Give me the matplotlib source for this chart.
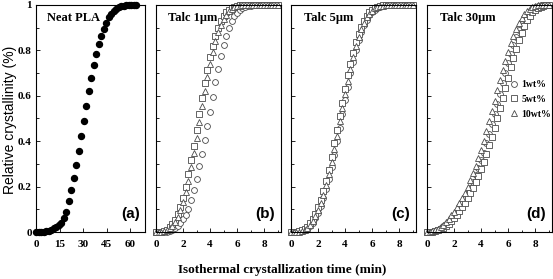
import matplotlib
matplotlib.use('Agg')
import matplotlib.pyplot as plt
from matplotlib.ticker import MultipleLocator

# ---------------- data ----------------
pla_time = [0, 1.6, 3.2, 4.8, 6.4, 8.0, 9.6, 11.2, 12.8, 14.4, 16.0, 17.6, 19.2, 20.8,
            22.4, 24.0, 25.6, 27.2, 28.8, 30.4, 32.0, 33.6, 35.2, 36.8, 38.4, 40.0,
            41.6, 43.2, 44.8, 46.4, 48.0, 49.6, 51.2, 52.8, 54.4, 56.0, 57.6, 59.2,
            60.8, 62.4, 64.0]
pla_xc = [0, 0, 0, 0.001, 0.003, 0.006, 0.011, 0.017, 0.024, 0.031, 0.04, 0.063, 0.09,
          0.135, 0.184, 0.24, 0.296, 0.359, 0.422, 0.49, 0.554, 0.622, 0.68, 0.734,
          0.785, 0.826, 0.865, 0.894, 0.922, 0.946, 0.96, 0.972, 0.982, 0.989, 0.994,
          0.997, 0.999, 1, 1, 1, 1]

talc_time = [0.0, 0.2, 0.4, 0.6, 0.8, 1.0, 1.2, 1.4, 1.6, 1.8, 2.0, 2.2, 2.4, 2.6, 2.8,
             3.0, 3.2, 3.4, 3.6, 3.8, 4.0, 4.2, 4.4, 4.6, 4.8, 5.0, 5.2, 5.4, 5.6, 5.8,
             6.0, 6.2, 6.4, 6.6, 6.8, 7.0, 7.2, 7.4, 7.6, 7.8, 8.0, 8.2, 8.4, 8.6, 8.8, 9.0]

# Talc 1um
b_1wt = [0, 0, 0, 0, 0.002, 0.005, 0.01, 0.017, 0.027, 0.04, 0.056, 0.076, 0.10, 0.14,
         0.185, 0.235, 0.29, 0.345, 0.405, 0.465, 0.53, 0.595, 0.66, 0.72, 0.775, 0.825,
         0.865, 0.90, 0.928, 0.95, 0.966, 0.978, 0.987, 0.992, 0.995, 0.997, 0.998, 0.999,
         1, 1, 1, 1, 1, 1, 1, 1]
b_5wt = [0, 0, 0.001, 0.004, 0.01, 0.02, 0.035, 0.055, 0.08, 0.11, 0.15, 0.20, 0.255,
         0.315, 0.38, 0.45, 0.52, 0.59, 0.655, 0.715, 0.77, 0.82, 0.865, 0.90, 0.93, 0.952,
         0.968, 0.98, 0.988, 0.993, 0.996, 0.998, 0.999, 1, 1, 1, 1, 1, 1, 1, 1, 1, 1, 1, 1, 1]
b_10wt = [0, 0, 0, 0.003, 0.008, 0.016, 0.028, 0.045, 0.068, 0.095, 0.13, 0.175, 0.225,
          0.285, 0.35, 0.415, 0.485, 0.555, 0.62, 0.685, 0.74, 0.795, 0.84, 0.88, 0.912,
          0.938, 0.958, 0.972, 0.982, 0.989, 0.994, 0.997, 0.998, 0.999, 1, 1, 1, 1, 1, 1,
          1, 1, 1, 1, 1, 1]
# Talc 5um
c_1wt = [0, 0, 0, 0.001, 0.003, 0.008, 0.015, 0.025, 0.04, 0.06, 0.085, 0.115, 0.15, 0.19,
         0.235, 0.285, 0.34, 0.40, 0.46, 0.52, 0.58, 0.64, 0.70, 0.75, 0.80, 0.845, 0.88,
         0.91, 0.935, 0.955, 0.97, 0.98, 0.988, 0.993, 0.996, 0.998, 0.999, 1, 1, 1, 1, 1,
         1, 1, 1, 1]
c_5wt = [0, 0, 0.001, 0.003, 0.007, 0.014, 0.024, 0.038, 0.056, 0.08, 0.108, 0.142, 0.18,
         0.225, 0.275, 0.33, 0.39, 0.45, 0.51, 0.57, 0.63, 0.69, 0.74, 0.79, 0.835, 0.873,
         0.905, 0.93, 0.952, 0.968, 0.98, 0.988, 0.993, 0.996, 0.998, 0.999, 1, 1, 1, 1, 1,
         1, 1, 1, 1, 1]
c_10wt = [0, 0, 0, 0.002, 0.005, 0.011, 0.019, 0.031, 0.047, 0.069, 0.096, 0.128, 0.165,
          0.207, 0.255, 0.308, 0.365, 0.425, 0.487, 0.547, 0.607, 0.667, 0.72, 0.772, 0.82,
          0.86, 0.894, 0.922, 0.945, 0.962, 0.975, 0.985, 0.991, 0.995, 0.997, 0.999, 1, 1,
          1, 1, 1, 1, 1, 1, 1, 1]
# Talc 30um
d_1wt = [0, 0, 0.002, 0.005, 0.01, 0.017, 0.025, 0.035, 0.047, 0.06, 0.075, 0.09, 0.108,
         0.127, 0.147, 0.17, 0.195, 0.222, 0.25, 0.28, 0.315, 0.35, 0.39, 0.43, 0.475, 0.52,
         0.565, 0.61, 0.655, 0.70, 0.745, 0.785, 0.825, 0.86, 0.89, 0.915, 0.94, 0.957,
         0.972, 0.982, 0.99, 0.995, 0.998, 1, 1, 1]
d_5wt = [0, 0, 0.001, 0.003, 0.007, 0.012, 0.019, 0.027, 0.037, 0.049, 0.062, 0.077, 0.093,
         0.11, 0.128, 0.148, 0.17, 0.194, 0.22, 0.248, 0.278, 0.31, 0.345, 0.382, 0.42,
         0.46, 0.502, 0.545, 0.59, 0.635, 0.68, 0.725, 0.768, 0.808, 0.845, 0.878, 0.907,
         0.932, 0.952, 0.968, 0.98, 0.988, 0.993, 0.997, 0.999, 1]
d_10wt = [0, 0, 0.003, 0.007, 0.013, 0.021, 0.031, 0.043, 0.057, 0.073, 0.09, 0.108, 0.128,
          0.15, 0.174, 0.2, 0.228, 0.258, 0.29, 0.325, 0.362, 0.402, 0.443, 0.487, 0.532,
          0.578, 0.624, 0.669, 0.712, 0.755, 0.795, 0.832, 0.865, 0.895, 0.92, 0.942, 0.96,
          0.974, 0.984, 0.991, 0.995, 0.998, 0.999, 1, 1, 1]

panel_titles = ['Neat PLA', 'Talc 1μm', 'Talc 5μm', 'Talc 30μm']
panel_tags = ['(a)', '(b)', '(c)', '(d)']
series_labels = ['1wt%', '5wt%', '10wt%']
pla_xticks = [0, 15, 30, 45, 60]
talc_xticks = [0, 2, 4, 6, 8]
yticks = [0, 0.2, 0.4, 0.6, 0.8, 1]
ytick_labels = ['0', '0.2', '0.4', '0.6', '0.8', '1']

# ---------------- figure ----------------
W, H = 553, 279
fig = plt.figure(figsize=(W / 100, H / 100), dpi=100)

def px_axes(x0, x1, y0, y1):
    return fig.add_axes([x0 / W, 1 - y1 / H, (x1 - x0) / W, (y1 - y0) / H])

axes = [px_axes(36, 145, 5, 232), px_axes(156, 281, 5, 232),
        px_axes(291, 416, 5, 232), px_axes(427, 552, 5, 232)]

tick_font = dict(family='Liberation Serif', weight='bold', size=8)
title_font = dict(family='Liberation Serif', weight='bold', size=9)

for i, ax in enumerate(axes):
    for s in ax.spines.values():
        s.set_linewidth(0.8)
    ax.set_ylim(0, 1)
    ax.set_yticks(yticks)
    ax.yaxis.set_minor_locator(MultipleLocator(0.1))
    ax.tick_params(which='both', direction='in', width=0.6, colors='black')
    ax.tick_params(which='major', length=3)
    ax.tick_params(which='minor', length=1.8)
    ax.tick_params(axis='x', which='major', pad=6)
    ax.tick_params(axis='y', which='major', pad=3)
    if i == 0:
        ax.set_yticklabels(ytick_labels, fontdict=tick_font)
    else:
        ax.set_yticklabels([])
    ax.text(0.1, 0.97, panel_titles[i], transform=ax.transAxes, ha='left', va='top',
            fontdict=title_font)
    ax.text(0.95, 0.05, panel_tags[i], transform=ax.transAxes, ha='right', va='bottom',
            family='Liberation Sans', weight='bold', size=11)

# Panel (a)
ax = axes[0]
ax.plot(pla_time, pla_xc, 'o', color='black', ms=4.3, clip_on=False, zorder=3)
ax.set_xlim(0, 69.5)
ax.set_xticks(pla_xticks)
ax.set_xticklabels([str(v) for v in pla_xticks], fontdict=tick_font)

mstyle = dict(linestyle='none', mfc='white', mec='#4a4a4a', mew=0.6, ms=4.2, clip_on=False)
panel_series = [(b_1wt, b_5wt, b_10wt), (c_1wt, c_5wt, c_10wt), (d_1wt, d_5wt, d_10wt)]
for ax, (s1, s5, s10) in zip(axes[1:], panel_series):
    ax.plot(talc_time, s1, marker='o', label=series_labels[0], **mstyle)
    ax.plot(talc_time, s5, marker='s', label=series_labels[1], **mstyle)
    ax.plot(talc_time, s10, marker='^', label=series_labels[2], **mstyle)
    ax.set_xlim(0, 9.25)
    ax.set_xticks(talc_xticks)
    ax.xaxis.set_minor_locator(MultipleLocator(1))
    ax.set_xticklabels([str(v) for v in talc_xticks], fontdict=tick_font)

axes[3].legend(loc='upper left', bbox_to_anchor=(0.61, 0.70), frameon=False,
               prop=dict(family='Liberation Serif', weight='bold', size=7),
               handlelength=0.8, handletextpad=0.4, labelspacing=0.6, borderpad=0.2)

fig.text(10 / W, 1 - 120 / H, 'Relative crystallinity (%)', rotation=90, ha='center',
         va='center', family='Liberation Sans', size=10)
fig.text(282 / W, 1 - 270 / H, 'Isothermal crystallization time (min)', ha='center',
         va='center', family='Liberation Serif', weight='bold', size=9.5)

fig.savefig('out.png', dpi=100)
